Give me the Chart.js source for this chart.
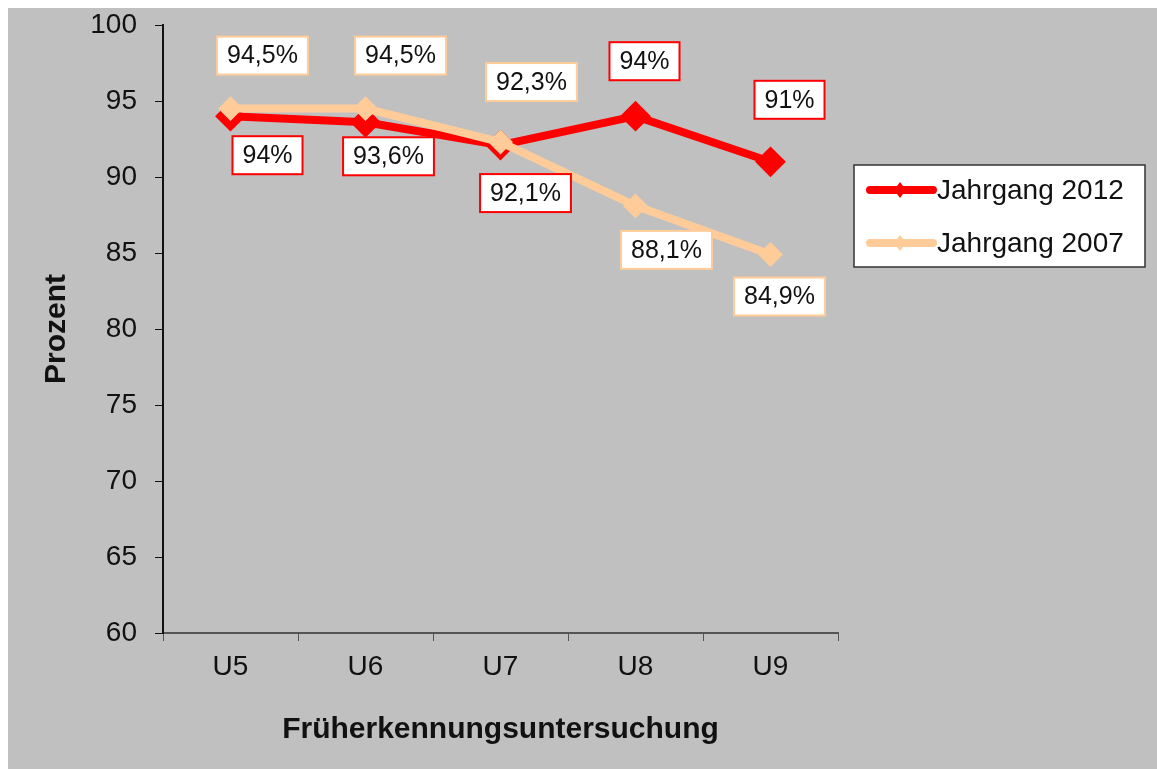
<!DOCTYPE html>
<html lang="de">
<head>
  <meta charset="UTF-8" />
  <title>Früherkennungsuntersuchung</title>
  <script src="https://cdn.jsdelivr.net/npm/chart.js"></script>
  <style>
    body {
      margin: 0;
      padding: 0;
      background: #ffffff;
    }
    #wrap {
      position: absolute;
      left: 8px;
      top: 8px;
      width: 1149px;
      height: 761px;
      background: #c0c0c0;
    }
  </style>
</head>
<body>

<div id="wrap"><canvas id="chart" width="1149" height="761"></canvas></div>

<script>
  const categories = ['U5', 'U6', 'U7', 'U8', 'U9'];
  const values2012 = [94, 93.6, 92.1, 94, 91];
  const values2007 = [94.5, 94.5, 92.3, 88.1, 84.9];
  const labels2012 = ['94%', '93,6%', '92,1%', '94%', '91%'];
  const labels2007 = ['94,5%', '94,5%', '92,3%', '88,1%', '84,9%'];

  // Verschiebung der Wertebeschriftungen (Pixel, relativ zum Punkt)
  const offsets2012 = [[37, 39], [23, 34], [25, 48], [9, -55], [19, -62]];
  const offsets2007 = [[32, -53], [35, -53], [31, -60], [31, 44], [9, 42]];

  const RED = '#ff0000';
  const PEACH = '#ffcc99';

  // Beschriftungen als weisse Kästchen
  const valueLabels = {
    id: 'valueLabels',
    afterDatasetsDraw(chart) {
      const ctx = chart.ctx;
      ctx.save();
      ctx.font = '25px "Liberation Sans", Arial, sans-serif';
      ctx.textAlign = 'center';
      ctx.textBaseline = 'middle';
      chart.data.datasets.forEach((ds, i) => {
        const meta = chart.getDatasetMeta(i);
        meta.data.forEach((pt, j) => {
          const [dx, dy] = ds.boxOffsets[j];
          const cx = pt.x + dx, cy = pt.y + dy;
          const txt = ds.valueTexts[j];
          const w = ctx.measureText(txt).width + 20;
          const h = 38;
          ctx.fillStyle = '#ffffff';
          ctx.fillRect(cx - w / 2, cy - h / 2, w, h);
          ctx.strokeStyle = ds.borderColor;
          ctx.lineWidth = 2;
          ctx.strokeRect(cx - w / 2, cy - h / 2, w, h);
          ctx.fillStyle = '#111111';
          ctx.fillText(txt, cx, cy + 1);
        });
      });
      ctx.restore();
    }
  };

  // Legende rechts neben dem Diagramm
  const boxLegend = {
    id: 'boxLegend',
    afterDraw(chart) {
      const ctx = chart.ctx;
      const x0 = 846, y0 = 157, w = 291, h = 102;
      ctx.save();
      ctx.fillStyle = '#ffffff';
      ctx.fillRect(x0, y0, w, h);
      ctx.strokeStyle = '#333333';
      ctx.lineWidth = 1.5;
      ctx.strokeRect(x0, y0, w, h);
      ctx.font = '28px "Liberation Sans", Arial, sans-serif';
      ctx.textBaseline = 'middle';
      chart.data.datasets.forEach((ds, i) => {
        const y = y0 + 25 + i * 53;
        ctx.strokeStyle = ds.borderColor;
        ctx.lineWidth = 8;
        ctx.lineCap = 'round';
        ctx.beginPath();
        ctx.moveTo(862, y);
        ctx.lineTo(925, y);
        ctx.stroke();
        ctx.fillStyle = ds.borderColor;
        ctx.beginPath();
        ctx.moveTo(892, y - 8);
        ctx.lineTo(898, y);
        ctx.lineTo(892, y + 8);
        ctx.lineTo(886, y);
        ctx.closePath();
        ctx.fill();
        ctx.fillStyle = '#111111';
        ctx.fillText(ds.label, 929, y + 1);
      });
      ctx.restore();
    }
  };

  const ctx = document.getElementById('chart').getContext('2d');
  new Chart(ctx, {
    type: 'line',
    data: {
      labels: categories,
      datasets: [
        {
          label: 'Jahrgang 2012',
          data: values2012,
          valueTexts: labels2012,
          boxOffsets: offsets2012,
          borderColor: RED,
          backgroundColor: RED,
          borderWidth: 8,
          pointStyle: 'rectRot',
          pointRadius: 14,
          pointBorderWidth: 2,
          tension: 0,
          order: 1
        },
        {
          label: 'Jahrgang 2007',
          data: values2007,
          valueTexts: labels2007,
          boxOffsets: offsets2007,
          borderColor: PEACH,
          backgroundColor: PEACH,
          borderWidth: 8,
          pointStyle: 'rectRot',
          pointRadius: 11,
          pointBorderWidth: 2,
          tension: 0,
          order: 0
        }
      ]
    },
    options: {
      responsive: false,
      animation: false,
      layout: { padding: { top: 0, right: 319, left: 0, bottom: 0 } },
      plugins: {
        legend: { display: false },
        tooltip: { enabled: false }
      },
      scales: {
        x: {
          offset: true,
          afterFit: s => { s.height = 136; },
          grid: { drawOnChartArea: false, drawTicks: true, tickLength: 8, color: '#555555', offset: true },
          border: { color: '#555555', width: 2 },
          ticks: { color: '#111111', padding: 9, font: { size: 28, family: '"Liberation Sans", Arial' } },
          title: {
            display: true,
            text: 'Früherkennungsuntersuchung',
            color: '#111111',
            padding: { bottom: 21 },
            font: { size: 30, weight: 'bold', family: '"Liberation Sans", Arial' }
          }
        },
        y: {
          min: 60,
          max: 100,
          afterFit: s => { s.width = 155; s.paddingTop = 17; s.paddingBottom = 0; },
          grid: { drawOnChartArea: false, drawTicks: true, tickLength: 8, color: '#111111' },
          border: { color: '#111111', width: 2 },
          ticks: { stepSize: 5, color: '#111111', padding: 18, font: { size: 28, family: '"Liberation Sans", Arial' } },
          title: {
            display: true,
            text: 'Prozent',
            color: '#111111',
            padding: { top: 31 },
            font: { size: 30, weight: 'bold', family: '"Liberation Sans", Arial' }
          }
        }
      }
    },
    plugins: [valueLabels, boxLegend]
  });
</script>

</body>
</html>
